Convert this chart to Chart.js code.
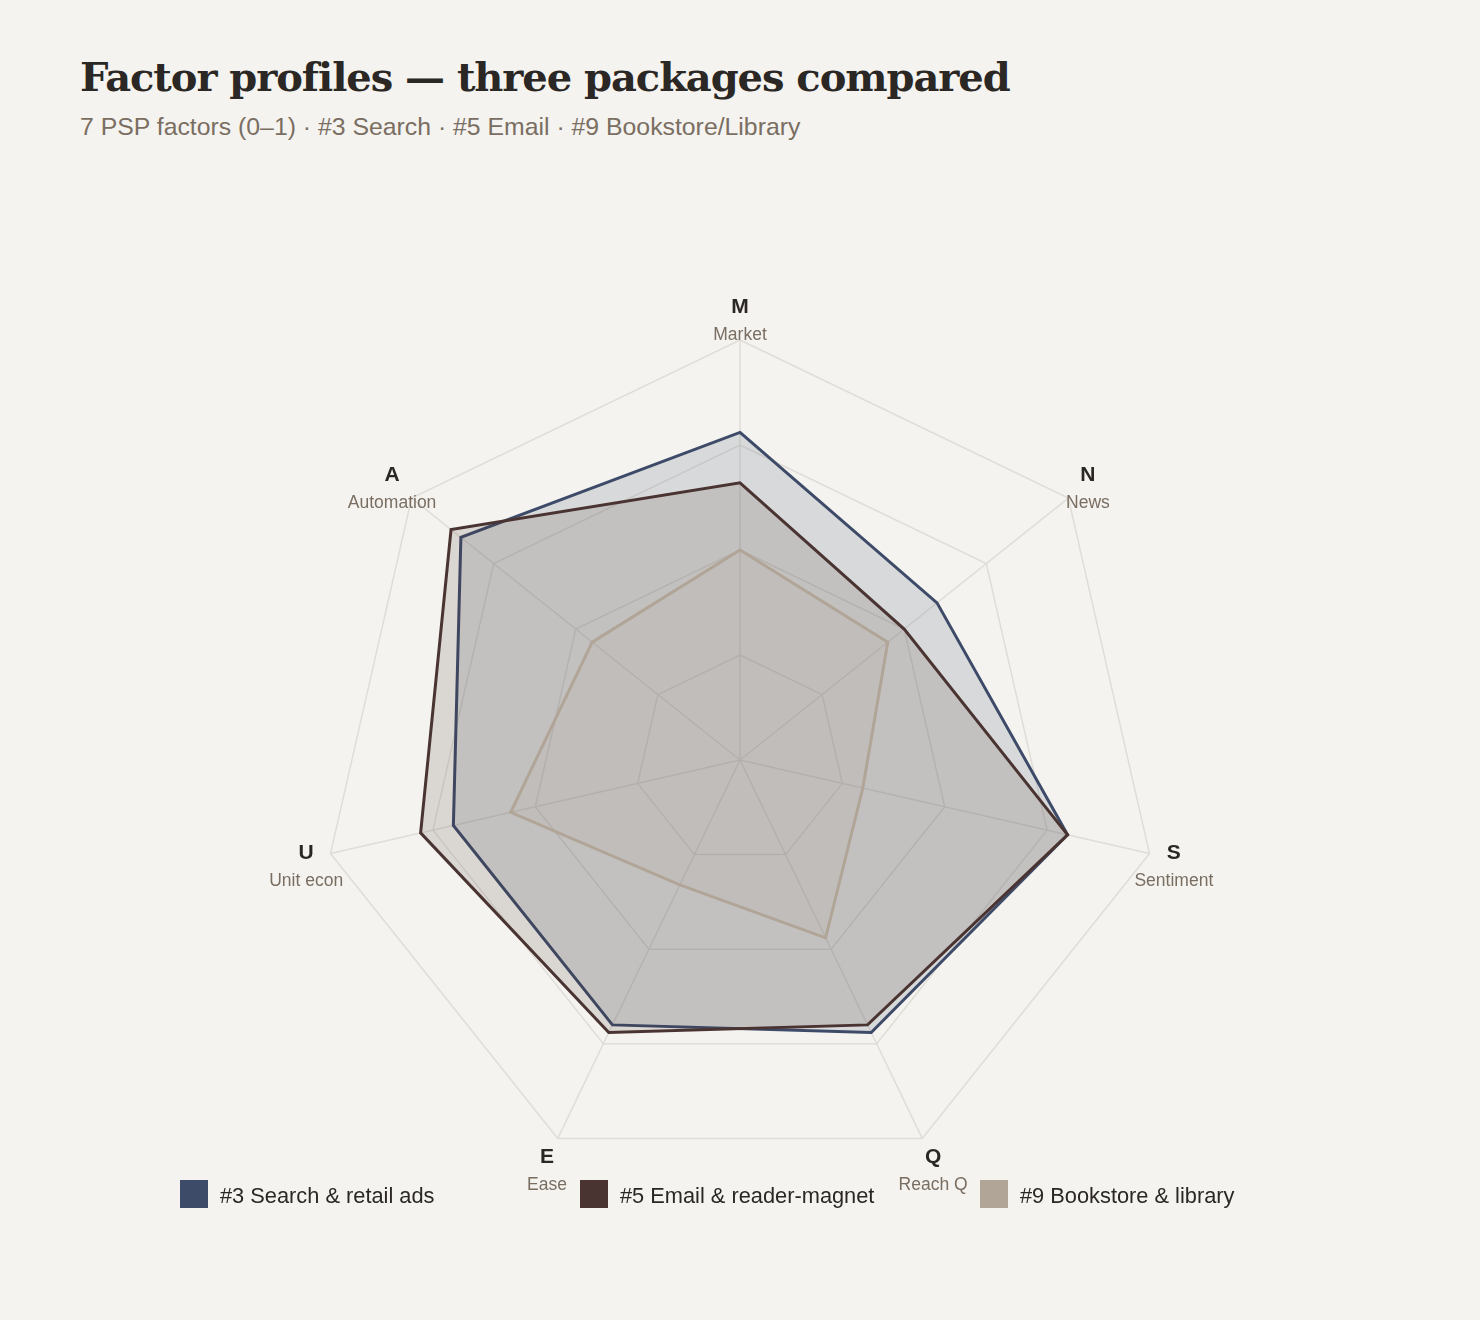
<!DOCTYPE html>
<html>
<head>
<meta charset="utf-8">
<script src="https://cdn.jsdelivr.net/npm/chart.js@4.4.1/dist/chart.umd.min.js"></script>
<style>
  body { margin: 0; background: #f4f3ef; }
  .wrap { position: relative; width: 1480px; height: 1320px; background: #f4f3ef; }
  h1 { position: absolute; left: 80px; top: 53px; margin: 0; font-family: "DejaVu Serif", serif; font-weight: bold; font-size: 40px; color: #2b2724; letter-spacing: -1.05px; }
  .sub { position: absolute; left: 80px; top: 113px; font-family: "Liberation Sans", Arial, sans-serif; font-size: 24.8px; color: #7a6e62; }
  canvas { position: absolute; left: 0; top: 0; }
  .legend { position: absolute; top: 1180px; left: 0; font-family: "Liberation Sans", Arial, sans-serif; font-size: 21.8px; color: #2b2724; }
  .legend .item { position: absolute; white-space: nowrap; display: flex; align-items: center; }
  .legend .sw { width: 28px; height: 28px; margin-right: 12px; }
  .legend .txt { position: relative; top: 2px; }
</style>
</head>
<body>
<div class="wrap">
  <h1>Factor profiles — three packages compared</h1>
  <div class="sub">7 PSP factors (0–1) · #3 Search · #5 Email · #9 Bookstore/Library</div>
  <canvas id="radar" width="1480" height="1320"></canvas>
  <div class="legend" id="legend"></div>
</div>
<script>
// factors, short letter + full name
const factorKeys = ["M", "N", "S", "Q", "E", "U", "A"];
const factorNames = ["Market", "News", "Sentiment", "Reach Q", "Ease", "Unit econ", "Automation"];

const seriesNames = ["#3 Search & retail ads", "#5 Email & reader-magnet", "#9 Bookstore & library"];
const searchVals = [0.78, 0.60, 0.80, 0.72, 0.70, 0.70, 0.85];
const emailVals = [0.66, 0.50, 0.80, 0.70, 0.72, 0.78, 0.88];
const bookVals = [0.50, 0.45, 0.30, 0.47, 0.33, 0.56, 0.45];
const seriesColors = ["#3d4a68", "#4a3432", "#b0a597"];
const seriesFills = ["rgba(61,74,104,0.15)", "rgba(74,52,50,0.15)", "rgba(176,165,151,0.15)"];

const tickVals = [0, 0.25, 0.5, 0.75, 1];

// own point labels: bold letter + grey name under it
const factorLabels = {
    id: "factorLabels",
    afterDraw(chart) {
        const scale = chart.scales.r;
        const ctx = chart.ctx;
        ctx.save();
        ctx.textAlign = "center";
        ctx.textBaseline = "middle";
        factorKeys.forEach((k, i) => {
            const p = scale.getPointPosition(i, scale.drawingArea + 25);
            const dy = (p.y - scale.yCenter) / (scale.drawingArea + 25);
            const y1 = p.y - 6 + 2 * dy;
            ctx.font = "bold 21px 'Liberation Sans', Arial, sans-serif";
            ctx.fillStyle = "#2b2724";
            ctx.fillText(k, p.x, y1);
            ctx.font = "17.5px 'Liberation Sans', Arial, sans-serif";
            ctx.fillStyle = "#7a6e62";
            ctx.fillText(factorNames[i], p.x, y1 + 28);
        });
        ctx.restore();
    }
};

const allVals = [searchVals, emailVals, bookVals];

const radarChart = new Chart(document.getElementById("radar"), {
    type: "radar",
    data: {
        labels: factorKeys,
        datasets: allVals.map((vals, i) => ({
            label: seriesNames[i],
            data: vals,
            borderColor: seriesColors[i],
            backgroundColor: seriesFills[i],
            borderWidth: 3,
            pointRadius: 0,
            fill: true,
            order: 3 - i
        }))
    },
    options: {
        responsive: false,
        animation: false,
        layout: { padding: { left: 320, right: 320, top: 340, bottom: 140 } },
        plugins: { legend: { display: false }, tooltip: { enabled: false } },
        scales: {
            r: {
                min: 0,
                max: 1,
                afterBuildTicks: (axis) => { axis.ticks = tickVals.map(v => ({ value: v })); },
                ticks: { display: false },
                pointLabels: { display: false },
                grid: { color: "#e0ddd8", lineWidth: 1.5, circular: false },
                angleLines: { color: "#e0ddd8", lineWidth: 1.5 }
            }
        }
    },
    plugins: [factorLabels]
});

// html legend
const legendEl = document.getElementById("legend");
const legendX = [180, 580, 980];
seriesNames.forEach((name, i) => {
    const item = document.createElement("div");
    item.className = "item";
    item.style.left = legendX[i] + "px";
    item.innerHTML = '<span class="sw" style="background:' + seriesColors[i] + '"></span><span class="txt">' + name + '</span>';
    legendEl.appendChild(item);
});
</script>
</body>
</html>
